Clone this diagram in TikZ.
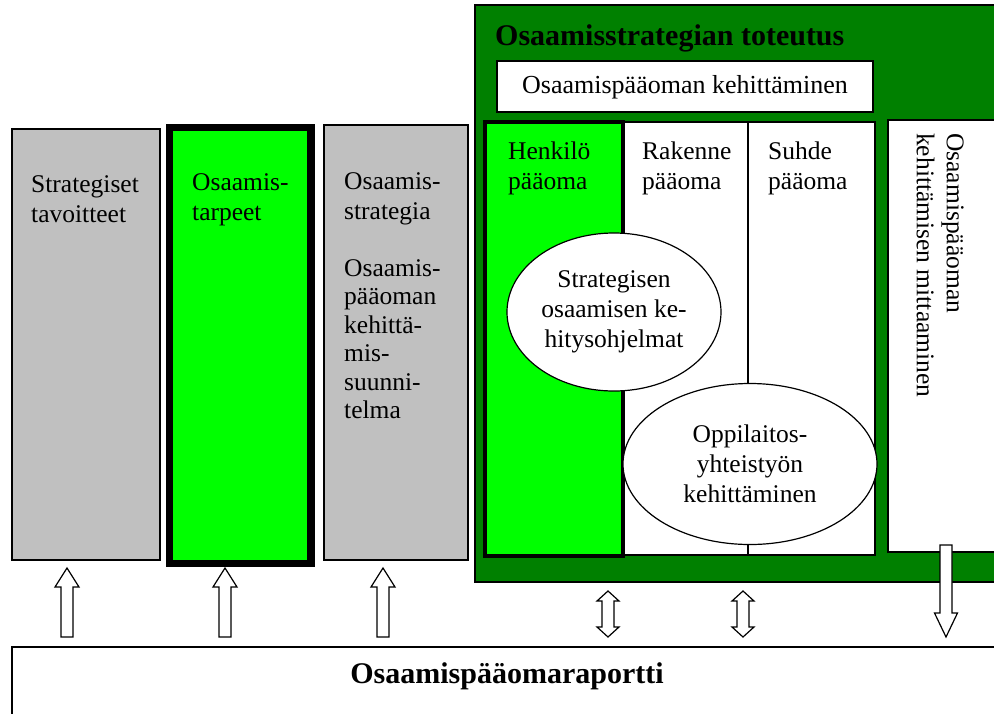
\documentclass[tikz,border=0pt]{standalone}
\usepackage{fontspec}
\setmainfont{Liberation Serif}
\usetikzlibrary{shapes.geometric}
\definecolor{boxgray}{HTML}{C0C0C0}
\definecolor{lightgreen}{HTML}{00FF00}
\definecolor{darkgreen}{HTML}{008000}
\begin{document}
\begin{tikzpicture}[x=1pt,y=-1pt,
  body/.style={font=\fontsize{25.5}{30}\selectfont, inner sep=0pt, align=left},
  box/.style={draw=black, line width=1.2pt, inner sep=0pt, outer sep=0pt, anchor=north west},
  thickbox/.style={draw=black, inner sep=0pt, outer sep=0pt, anchor=north west},
  blockarrow/.style={draw=black, fill=white, line width=1.2pt, line join=miter},
  uparrow/.pic={\draw[blockarrow] (-6,637) -- (-6,587) -- (-12,587) -- (0,568)
      -- (12,587) -- (6,587) -- (6,637) -- cycle;},
  twowayarrow/.pic={\draw[blockarrow] (-6,601) -- (-11,601) -- (0,591) -- (11,601)
      -- (6,601) -- (6,627) -- (11,627) -- (0,637) -- (-11,627) -- (-6,627) -- cycle;},
  downarrow/.pic={\draw[blockarrow] (-6,545) -- (6,545) -- (6,613) -- (11.5,613)
      -- (0,637) -- (-11.5,613) -- (-6,613) -- cycle;},
]
\useasboundingbox (0,0) rectangle (994,713);
\begin{scope}
\clip (0,0) rectangle (994,713);

% left columns
\node[box, fill=boxgray, minimum width=148pt, minimum height=431pt] (goals) at (12,129) {};
\node[thickbox, fill=lightgreen, line width=7.5pt, minimum width=141.5pt, minimum height=436pt] (needs) at (169.5,127.5) {};
\node[box, fill=boxgray, minimum width=144pt, minimum height=435pt] (strategy) at (324,125) {};

\node[body, anchor=north west] (goalsT) at (31,175) {Strategiset\\tavoitteet};
\node[body, anchor=north west] (needsT) at (192,173) {Osaamis-\\tarpeet};
\node[body, anchor=north west] (strategyT) at (344,172) {Osaamis-\\strategia};
\node[body, anchor=north west, font=\fontsize{25.5}{28.5}\selectfont] (planT) at (344,259) {Osaamis-\\pääoman\\kehittä-\\mis-\\suunni-\\telma};

% implementation frame
\node[box, fill=darkgreen, minimum width=540pt, minimum height=577pt] (impl) at (475,5) {};
\node[font=\bfseries\fontsize{30}{32}\selectfont, inner sep=0pt, anchor=north west] (implT) at (495,24) {Osaamisstrategian toteutus};
\node[box, fill=white, minimum width=376pt, minimum height=51pt] (develop) at (497,61) {};
\node[body, align=center, font=\fontsize{26}{30}\selectfont] (developT) at (685,87) {Osaamispääoman kehittäminen};

% capital columns
\node[box, fill=white, minimum width=253pt, minimum height=433pt] (capital) at (622,122) {};
\draw[line width=1.2pt] (748,122) -- (748,555);
\node[thickbox, fill=lightgreen, line width=4pt, minimum width=137.5pt, minimum height=434pt] (human) at (485,122) {};
\node[body, anchor=north west] (humanT) at (508,142) {Henkilö\\pääoma};
\node[body, anchor=north west] (structT) at (642,142) {Rakenne\\pääoma};
\node[body, anchor=north west] (relT) at (768,142) {Suhde\\pääoma};

% measurement column
\node[box, fill=white, minimum width=130pt, minimum height=432pt] (measure) at (888,120) {};
\node[body, rotate=-90, anchor=north west] (measureT) at (964,133) {Osaamispääoman\\kehittämisen mittaaminen};

% programmes
\node[ellipse, draw=black, line width=1.2pt, fill=white, minimum width=214pt, minimum height=158pt,
      inner sep=0pt, body, align=center] (prog) at (614,312) {Strategisen\\osaamisen ke-\\hitysohjelmat};
\node[ellipse, draw=black, line width=1.2pt, fill=white, minimum width=254pt, minimum height=161pt,
      inner sep=0pt, body, align=center] (coop) at (750,464) {Oppilaitos-\\yhteistyön\\kehittäminen};

% report
\node[box, fill=white, minimum width=1000pt, minimum height=80pt] (report) at (12,647) {};
\node[font=\bfseries\fontsize{30}{32}\selectfont, inner sep=0pt] (reportT) at (507,676) {Osaamispääomaraportti};

% block arrows
\pic at (67,0) {uparrow};
\pic at (225,0) {uparrow};
\pic at (383,0) {uparrow};
\pic at (608,0) {twowayarrow};
\pic at (743,0) {twowayarrow};
\pic at (946,0) {downarrow};
\end{scope}
\end{tikzpicture}
\end{document}
